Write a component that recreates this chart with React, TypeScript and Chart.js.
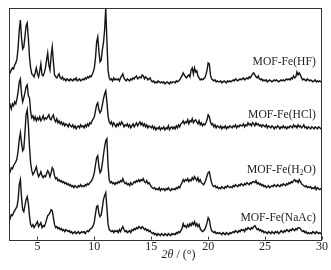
import { useEffect, useRef } from "react";
import { Chart, registerables } from "chart.js";

Chart.register(...registerables);

// 2θ sampling of the patterns (degrees)
const twoThetaStart = 2.5;
const twoThetaStep = 0.1;
const xTicks = [5, 10, 15, 20, 25, 30];

const seriesNames = ["MOF-Fe(HF)", "MOF-Fe(HCl)", "MOF-Fe(H2O)", "MOF-Fe(NaAc)"];
// vertical stacking offsets of each pattern (intensity units)
const offsets = [150, 100, 45, 0];

// relative intensities, 2.5° .. 30.0° in 0.1° steps
const hf = [
  18, 17, 20, 22, 21,
  25, 27, 31, 42, 60, 70, 52, 41, 43, 53,
  64, 67, 52, 33, 22, 16, 15, 13, 17, 22,
  16, 13, 19, 26, 15, 14, 17, 22, 30, 37,
  25, 20, 34, 43, 28, 15, 13, 12, 14, 16,
  12, 11, 13, 10, 11, 9, 11, 10, 9, 11,
  10, 9, 11, 10, 12, 9, 10, 11, 9, 10,
  11, 10, 12, 11, 13, 12, 14, 13, 15, 18,
  22, 32, 48, 53, 38, 28, 30, 40, 47, 60,
  82, 50, 20, 12, 10, 11, 9, 12, 10, 11,
  10, 11, 9, 12, 14, 16, 12, 10, 9, 11,
  10, 9, 11, 10, 12, 11, 13, 14, 11, 12,
  13, 12, 15, 14, 11, 13, 12, 10, 11, 12,
  9, 8, 9, 7, 8, 7, 9, 8, 7, 8,
  7, 8, 6, 7, 8, 7, 6, 8, 7, 8,
  8, 7, 9, 8, 9, 10, 12, 14, 17, 15,
  13, 12, 14, 15, 13, 20, 22, 16, 22, 18,
  19, 14, 12, 10, 11, 10, 11, 12, 15, 20,
  27, 26, 15, 11, 10, 9, 10, 8, 9, 8,
  8, 9, 7, 8, 9, 8, 7, 9, 8, 9,
  8, 9, 10, 9, 11, 10, 9, 10, 11, 10,
  11, 12, 10, 11, 12, 11, 13, 12, 14, 16,
  17, 15, 13, 12, 14, 11, 10, 11, 9, 10,
  9, 10, 8, 9, 10, 9, 8, 9, 10, 9,
  10, 9, 8, 9, 10, 9, 10, 9, 10, 11,
  10, 11, 10, 12, 11, 14, 12, 13, 18, 15,
  17, 15, 12, 10, 11, 10, 9, 11, 10, 9,
  10, 9, 8, 9, 10, 8, 9, 8, 9, 8,
  8,
];

const hcl = [
  32, 35, 31, 36, 34,
  38, 36, 41, 48, 58, 61, 46, 38, 42, 47,
  53, 55, 44, 42, 28, 22, 24, 20, 23, 19,
  22, 20, 23, 19, 21, 24, 20, 22, 21, 23,
  25, 21, 20, 23, 25, 20, 18, 21, 17, 19,
  16, 18, 15, 17, 14, 16, 15, 13, 16, 14,
  13, 15, 12, 14, 11, 13, 14, 12, 15, 13,
  14, 12, 15, 13, 16, 14, 17, 16, 19, 21,
  23, 29, 35, 37, 30, 27, 29, 35, 41, 46,
  49, 38, 24, 18, 16, 18, 14, 17, 15, 13,
  16, 14, 17, 15, 18, 16, 13, 15, 14, 16,
  13, 15, 12, 14, 16, 13, 15, 17, 14, 16,
  18, 15, 17, 14, 16, 13, 15, 12, 14, 13,
  12, 14, 11, 13, 10, 12, 11, 13, 10, 12,
  11, 13, 10, 12, 11, 14, 10, 12, 13, 11,
  13, 11, 14, 12, 15, 13, 16, 17, 19, 16,
  18, 17, 20, 16, 19, 18, 21, 17, 19, 20,
  18, 16, 19, 15, 17, 14, 16, 15, 17, 20,
  25, 23, 18, 15, 16, 13, 15, 12, 14, 13,
  12, 14, 11, 13, 12, 14, 11, 13, 12, 14,
  13, 12, 14, 13, 15, 12, 14, 13, 15, 14,
  14, 16, 13, 15, 14, 17, 15, 16, 14, 17,
  16, 14, 17, 15, 16, 14, 15, 13, 15, 14,
  13, 15, 12, 14, 13, 12, 14, 13, 11, 13,
  12, 14, 13, 11, 13, 12, 14, 12, 13, 11,
  13, 12, 14, 13, 12, 15, 13, 14, 12, 15,
  13, 14, 12, 13, 15, 12, 13, 11, 13, 12,
  11, 13, 12, 11, 13, 12, 11, 13, 12, 11,
  12,
];

const h2o = [
  25, 23, 27, 26, 29,
  31, 33, 36, 44, 55, 62, 52, 44, 46, 62,
  80, 85, 70, 48, 32, 24, 20, 22, 25, 28,
  22, 18, 20, 23, 19, 17, 19, 18, 21, 24,
  22, 18, 22, 27, 25, 19, 16, 17, 14, 15,
  13, 14, 12, 13, 11, 12, 10, 11, 9, 10,
  8, 9, 7, 9, 8, 7, 9, 8, 10, 8,
  9, 8, 10, 9, 11, 10, 12, 13, 15, 18,
  22, 30, 37, 39, 28, 22, 24, 31, 40, 48,
  54, 56, 30, 15, 12, 13, 11, 12, 10, 12,
  11, 13, 12, 14, 13, 16, 13, 11, 12, 10,
  11, 9, 12, 10, 11, 13, 12, 14, 13, 15,
  13, 15, 14, 16, 13, 12, 14, 11, 12, 10,
  8, 7, 6, 7, 5, 6, 5, 7, 4, 6,
  5, 6, 4, 6, 5, 7, 5, 4, 6, 5,
  6, 5, 7, 6, 8, 7, 10, 12, 15, 13,
  15, 14, 16, 13, 15, 14, 17, 15, 18, 16,
  14, 17, 13, 15, 12, 11, 10, 12, 15, 19,
  22, 23, 17, 12, 9, 8, 9, 7, 8, 6,
  7, 6, 8, 7, 6, 8, 7, 9, 8, 7,
  8, 7, 9, 8, 10, 9, 8, 10, 9, 11,
  10, 9, 11, 10, 12, 11, 10, 12, 11, 13,
  13, 12, 14, 11, 12, 10, 11, 9, 10, 8,
  9, 7, 8, 9, 7, 8, 9, 8, 10, 9,
  8, 10, 9, 8, 10, 9, 11, 10, 9, 11,
  10, 12, 11, 13, 12, 14, 15, 13, 14, 12,
  15, 13, 11, 10, 9, 8, 9, 7, 8, 7,
  8, 6, 7, 6, 8, 5, 7, 6, 5, 6,
  5,
];

const naac = [
  23, 21, 25, 24, 27,
  29, 31, 33, 40, 55, 60, 42, 30, 28, 34,
  40, 43, 36, 24, 15, 13, 15, 12, 14, 16,
  18, 13, 15, 17, 12, 14, 13, 16, 20, 24,
  25, 27, 30, 29, 22, 15, 12, 13, 11, 12,
  10, 11, 9, 10, 8, 10, 9, 8, 9, 7,
  8, 6, 7, 8, 6, 7, 8, 6, 7, 8,
  7, 8, 6, 8, 9, 8, 10, 11, 12, 14,
  18, 26, 33, 34, 26, 23, 25, 32, 40, 44,
  47, 32, 16, 10, 9, 8, 9, 7, 9, 8,
  9, 7, 10, 8, 11, 13, 10, 8, 9, 7,
  8, 9, 7, 10, 9, 11, 10, 12, 11, 13,
  12, 11, 13, 12, 10, 11, 9, 10, 8, 9,
  7, 6, 7, 5, 6, 4, 6, 5, 4, 6,
  5, 4, 6, 5, 4, 6, 5, 4, 6, 5,
  6, 5, 7, 6, 8, 7, 9, 11, 16, 13,
  14, 12, 15, 13, 16, 14, 17, 15, 18, 14,
  16, 13, 15, 11, 9, 8, 9, 10, 13, 17,
  22, 20, 13, 9, 8, 7, 8, 6, 7, 6,
  7, 6, 5, 7, 6, 5, 7, 6, 5, 7,
  6, 7, 8, 7, 9, 8, 7, 9, 8, 10,
  9, 10, 8, 11, 10, 12, 11, 10, 12, 11,
  13, 14, 12, 10, 11, 9, 10, 8, 9, 7,
  8, 7, 6, 8, 7, 6, 8, 7, 6, 8,
  7, 8, 6, 7, 9, 8, 7, 9, 8, 10,
  9, 8, 10, 9, 11, 10, 9, 11, 10, 12,
  12, 11, 9, 8, 9, 7, 8, 6, 7, 6,
  7, 6, 8, 7, 6, 8, 7, 6, 7, 6,
  7,
];

const seriesValues = [hf, hcl, h2o, naac];
// where each name sits: 2θ of its right end, intensity level of its centre
const labelRightAt = 29.45;
const labelLevels = [178, 125, 70, 22];

const SERIF = "'Liberation Serif', 'Times New Roman', serif";

const decorPlugin = {
  id: "decor",
  afterDraw(chart: any) {
    const { ctx, chartArea } = chart;
    const xs = chart.scales.x;
    const ys = chart.scales.y;
    ctx.save();
    // frame
    ctx.strokeStyle = "#333";
    ctx.lineWidth = 1;
    ctx.strokeRect(
      Math.round(chartArea.left) + 0.5,
      Math.round(chartArea.top) + 0.5,
      Math.round(chartArea.right - chartArea.left) - 1,
      Math.round(chartArea.bottom - chartArea.top)
    );
    // inward ticks
    ctx.beginPath();
    xTicks.forEach((t) => {
      const px = Math.round(xs.getPixelForValue(t)) + 0.5;
      ctx.moveTo(px, chartArea.bottom);
      ctx.lineTo(px, chartArea.bottom - 3);
    });
    ctx.stroke();
    // series names
    ctx.fillStyle = "#222";
    ctx.textBaseline = "middle";
    const fs = 11.6;
    const right = xs.getPixelForValue(labelRightAt);
    seriesNames.forEach((name, i) => {
      const y = ys.getPixelForValue(labelLevels[i]);
      ctx.font = `${fs}px ${SERIF}`;
      if (name === "MOF-Fe(H2O)") {
        const a = "MOF-Fe(H";
        const b = "2";
        const c = "O)";
        const wa = ctx.measureText(a).width;
        const wc = ctx.measureText(c).width;
        ctx.font = `${fs * 0.65}px ${SERIF}`;
        const wb = ctx.measureText(b).width;
        let x = right - wa - wb - wc;
        ctx.textAlign = "left";
        ctx.font = `${fs}px ${SERIF}`;
        ctx.fillText(a, x, y);
        x += wa;
        ctx.font = `${fs * 0.65}px ${SERIF}`;
        ctx.fillText(b, x, y + 3.5);
        x += wb;
        ctx.font = `${fs}px ${SERIF}`;
        ctx.fillText(c, x, y);
      } else {
        ctx.textAlign = "right";
        ctx.fillText(name, right, y);
      }
    });
    // axis title: 2θ / (°)
    const t1 = "2";
    const t2 = "θ";
    const t3 = " / (°)";
    ctx.font = `12px ${SERIF}`;
    const w1 = ctx.measureText(t1).width;
    const w3 = ctx.measureText(t3).width;
    ctx.font = `italic 12px ${SERIF}`;
    const w2 = ctx.measureText(t2).width;
    const cx = xs.getPixelForValue(17.4);
    const ty = chartArea.bottom + 15;
    let tx = cx - (w1 + w2 + w3) / 2;
    ctx.textAlign = "left";
    ctx.font = `italic 12px ${SERIF}`;
    ctx.fillText(t1, tx, ty);
    tx += w1;
    ctx.fillText(t2, tx, ty);
    tx += w2;
    ctx.font = `12px ${SERIF}`;
    ctx.fillText(t3, tx, ty);
    ctx.restore();
  },
};

export default function App() {
  const ref = useRef<HTMLCanvasElement | null>(null);
  useEffect(() => {
    if (!ref.current) return;
    const datasets = seriesValues.map((vals, si) => ({
      label: seriesNames[si],
      data: vals.map((v, i) => ({
        x: Math.round((twoThetaStart + i * twoThetaStep) * 10) / 10,
        y: v + offsets[si],
      })),
      borderColor: "#151515",
      borderWidth: 1.4,
      pointRadius: 0,
      tension: 0,
      fill: false,
    }));
    const chart = new Chart(ref.current, {
      type: "line",
      data: { datasets },
      plugins: [decorPlugin],
      options: {
        animation: false,
        responsive: false,
        maintainAspectRatio: false,
        layout: { padding: { left: 9, right: 9, top: 8, bottom: 16 } },
        plugins: { legend: { display: false }, tooltip: { enabled: false }, title: { display: false } },
        scales: {
          x: {
            type: "linear",
            min: twoThetaStart,
            max: 30,
            afterBuildTicks: (scale: any) => {
              scale.ticks = xTicks.map((v) => ({ value: v }));
            },
            grid: { display: false, drawTicks: false },
            border: { display: false },
            ticks: {
              padding: 0,
              color: "#222",
              font: { family: SERIF, size: 12 },
              maxRotation: 0,
              autoSkip: false,
            },
          },
          y: { display: false, min: 0, max: 232 },
        },
      },
    } as any);
    return () => chart.destroy();
  }, []);
  return (
    <div style={{ position: "fixed", left: 0, top: 0, width: 331, height: 270, background: "#fff" }}>
      <canvas ref={ref} width={331} height={270} style={{ width: 331, height: 270 }} />
    </div>
  );
}
